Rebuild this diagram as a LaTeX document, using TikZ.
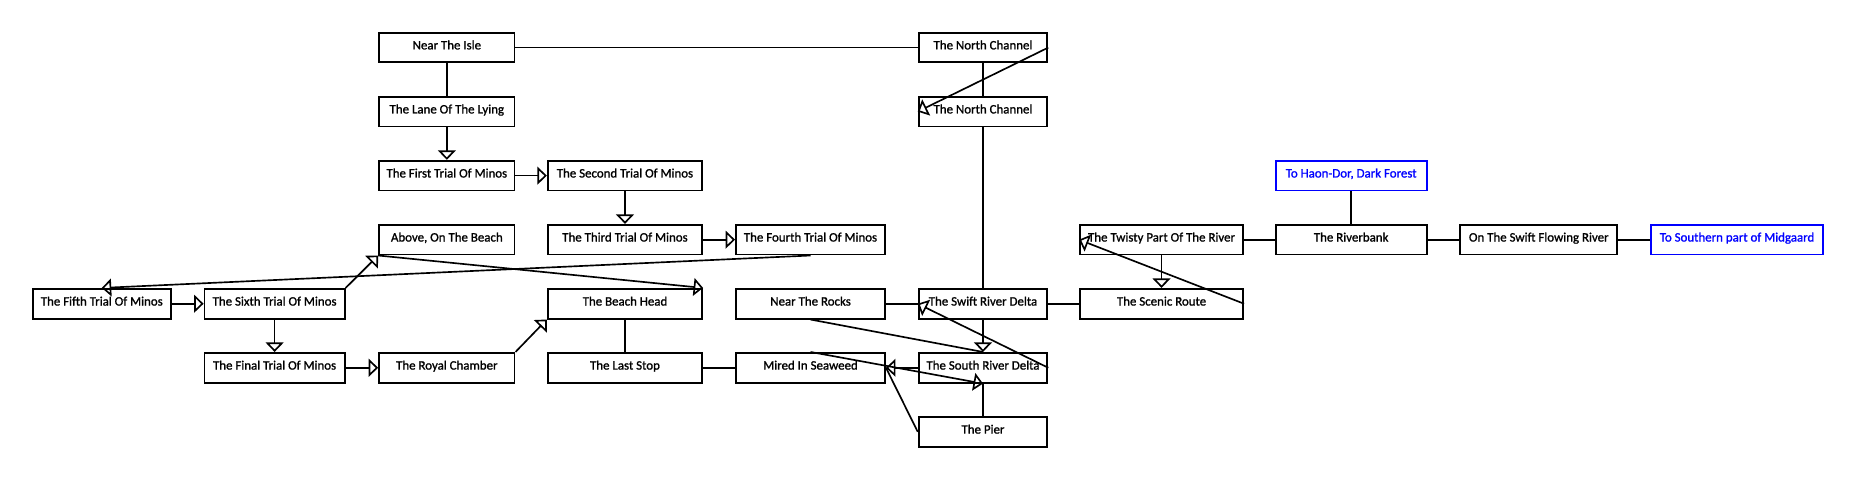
\documentclass[tikz,border=0pt]{standalone}
\usepackage{fontspec}
\setmainfont{Carlito}
\newfontfamily\roomfont[FakeBold=1.2]{Carlito}
\usetikzlibrary{arrows.meta}
\begin{document}
\begin{tikzpicture}[x=1pt,y=-1pt,
  room/.style={draw, line width=1.6pt, minimum height=25.1pt, inner sep=0pt,
    text height=3.1pt, text depth=0pt, font=\roomfont\fontsize{10.9}{13}\selectfont},
  exitroom/.style={room, draw=blue, text=blue},
  col1/.style={minimum width=116.8pt},
  col2/.style={minimum width=118.4pt},
  col3/.style={minimum width=114.4pt},
  col4/.style={minimum width=130.4pt},
  col5/.style={minimum width=125.9pt},
  col6/.style={minimum width=108.7pt},
  col7/.style={minimum width=137.8pt},
  col8/.style={minimum width=127.4pt},
  col9/.style={minimum width=132.4pt},
  col10/.style={minimum width=145.4pt},
  link/.style={line width=1.4pt},
  dirlink/.style={link, -{Triangle[open, length=8pt, width=15pt]}},
]
\useasboundingbox (0,0) rectangle (1568,406);

% row 1
\node[room,col3] (isle) at (377.5,40.2) {Near The Isle};
\node[room,col6] (nca) at (830.45,40.2) {The North Channel};
% row 2
\node[room,col3] (lane) at (377.5,94.3) {The Lane Of The Lying};
\node[room,col6] (ncb) at (830.45,94.3) {The North Channel};
% row 3
\node[room,col3] (first) at (377.5,148.4) {The First Trial Of Minos};
\node[room,col4] (second) at (528,148.4) {The Second Trial Of Minos};
\node[exitroom,col8] (haon) at (1141.5,148.4) {To Haon-Dor, Dark Forest};
% row 4
\node[room,col3] (above) at (377.5,202.5) {Above, On The Beach};
\node[room,col4] (third) at (528,202.5) {The Third Trial Of Minos};
\node[room,col5] (fourth) at (684.75,202.5) {The Fourth Trial Of Minos};
\node[room,col7] (twisty) at (981.3,202.5) {The Twisty Part Of The River};
\node[room,col8] (riverbank) at (1141.5,202.5) {The Riverbank};
\node[room,col9] (flowing) at (1300,202.5) {On The Swift Flowing River};
\node[exitroom,col10] (midgaard) at (1467.5,202.5) {To Southern part of Midgaard};
% row 5
\node[room,col1] (fifth) at (86,256.6) {The Fifth Trial Of Minos};
\node[room,col2] (sixth) at (232,256.6) {The Sixth Trial Of Minos};
\node[room,col4] (beach) at (528,256.6) {The Beach Head};
\node[room,col5] (rocks) at (684.75,256.6) {Near The Rocks};
\node[room,col6] (swift) at (830.45,256.6) {The Swift River Delta};
\node[room,col7] (scenic) at (981.3,256.6) {The Scenic Route};
% row 6
\node[room,col2] (final) at (232,310.7) {The Final Trial Of Minos};
\node[room,col3] (royal) at (377.5,310.7) {The Royal Chamber};
\node[room,col4] (last) at (528,310.7) {The Last Stop};
\node[room,col5] (mired) at (684.75,310.7) {Mired In Seaweed};
\node[room,col6] (southd) at (830.45,310.7) {The South River Delta};
% row 7
\node[room,col6] (pier) at (830.45,364.8) {The Pier};

% plain links
\draw[link] (isle.east) -- (nca.west);
\draw[link] (isle.south) -- (lane.north);
\draw[link] (nca.south) -- (ncb.north);
\draw[link] (ncb.south) -- (swift.north);
\draw[link] (beach.south) -- (last.north);
\draw[link] (last.east) -- (mired.west);
\draw[link] (rocks.east) -- (swift.west);
\draw[link] (rocks.south) -- (southd.north);
\draw[link] (swift.east) -- (scenic.west);
\draw[link] (pier.north) -- (southd.south);
\draw[link] (pier.west) -- (mired.east);
\draw[link] (twisty.east) -- (riverbank.west);
\draw[link] (riverbank.north) -- (haon.south);
\draw[link] (riverbank.east) -- (flowing.west);
\draw[link] (flowing.east) -- (midgaard.west);

% directed links
\draw[dirlink] (nca.east) -- (ncb.west);
\draw[dirlink] (lane.south) -- (first.north);
\draw[dirlink] (first.east) -- (second.west);
\draw[dirlink] (second.south) -- (third.north);
\draw[dirlink] (third.east) -- (fourth.west);
\draw[dirlink] (fourth.south) -- (fifth.north);
\draw[dirlink] (fifth.east) -- (sixth.west);
\draw[dirlink] (sixth.north east) -- (above.south west);
\draw[dirlink] (above.south west) -- (beach.north east);
\draw[dirlink] (sixth.south) -- (final.north);
\draw[dirlink] (final.east) -- (royal.west);
\draw[dirlink] (royal.north east) -- (beach.south west);
\draw[dirlink] (southd.east) -- (swift.west);
\draw[dirlink] (swift.south) -- (southd.north);
\draw[dirlink] (mired.north) -- (southd.south);
\draw[dirlink] (southd.west) -- (mired.east);
\draw[dirlink] (scenic.east) -- (twisty.west);
\draw[dirlink] (twisty.south) -- (scenic.north);
\end{tikzpicture}
\end{document}
